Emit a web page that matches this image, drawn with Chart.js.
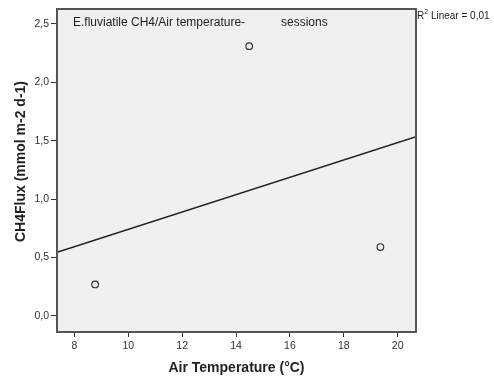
<!DOCTYPE html>
<html>
<head>
<meta charset="utf-8">
<script src="https://cdn.jsdelivr.net/npm/chart.js@4/dist/chart.umd.min.js"></script>
<style>
  html, body { margin: 0; padding: 0; background: #fff; }
  canvas { display: block; }
</style>
</head>
<body>
<canvas id="scatterChart" width="494" height="385"></canvas>
<script>
// datos
const airTemp = [8.77, 14.49, 19.36];
const ch4Flux = [0.27, 2.31, 0.59];
const fitTemp = [7.36, 20.68];
const fitFlux = [0.545, 1.535];
const xTicks = [8, 10, 12, 14, 16, 18, 20];
const yTicks = [0, 0.5, 1, 1.5, 2, 2.5];

const chartTitle = 'E.fluviatile CH4/Air temperature-';
const chartTitle2 = 'sessions';
const fitLabel = ' Linear = 0,01';
const yTitle = 'CH4Flux (mmol m-2 d-1)';
const xTitle = 'Air Temperature (°C)';

const FONT = '"Liberation Sans", Arial, sans-serif';

// fondo gris y marco del area del grafico + textos
const framePlugin = {
    id: 'frame',
    beforeDatasetsDraw(chart) {
        const { ctx, chartArea: a } = chart;
        ctx.save();
        ctx.fillStyle = '#f0f0f0';
        ctx.fillRect(a.left, a.top, a.right - a.left, a.bottom - a.top);
        ctx.restore();
    },
    afterDraw(chart) {
        const { ctx, chartArea: a } = chart;
        ctx.save();
        ctx.strokeStyle = '#555';
        ctx.lineWidth = 2;
        ctx.strokeRect(a.left, a.top, a.right - a.left, a.bottom - a.top);

        ctx.fillStyle = '#222';
        ctx.textBaseline = 'middle';
        ctx.font = '12px ' + FONT;
        ctx.fillText(chartTitle, a.left + 16, 23);
        ctx.fillText(chartTitle2, a.left + 224, 23);

        // R2
        ctx.font = '10px ' + FONT;
        const x0 = a.right + 1;
        ctx.fillText('R', x0, 16);
        const rW = ctx.measureText('R').width;
        ctx.font = '7px ' + FONT;
        ctx.fillText('2', x0 + rW, 12);
        const sW = ctx.measureText('2').width;
        ctx.font = '10px ' + FONT;
        ctx.fillText(fitLabel, x0 + rW + sW, 16);

        // titulo eje y
        ctx.font = 'bold 14px ' + FONT;
        ctx.textAlign = 'center';
        ctx.translate(21, 161.5);
        ctx.rotate(-Math.PI / 2);
        ctx.fillText(yTitle, 0, 0);
        ctx.restore();
    }
};

const comma = v => Number(v).toFixed(1).replace('.', ',');

new Chart(document.getElementById('scatterChart'), {
    type: 'scatter',
    data: {
        datasets: [{
            label: 'CH4Flux',
            data: airTemp.map((t, i) => ({ x: t, y: ch4Flux[i] })),
            pointStyle: 'circle',
            pointRadius: 3.3,
            pointBorderWidth: 1.2,
            pointBorderColor: '#333',
            pointBackgroundColor: 'rgba(0,0,0,0)',
            showLine: false
        }, {
            label: 'Linear',
            type: 'line',
            data: fitTemp.map((t, i) => ({ x: t, y: fitFlux[i] })),
            borderColor: '#222',
            borderWidth: 1.5,
            pointRadius: 0,
            fill: false
        }]
    },
    options: {
        responsive: false,
        animation: false,
        devicePixelRatio: 1,
        layout: { padding: { top: 9, right: 78, left: 0, bottom: 0 } },
        plugins: {
            legend: { display: false },
            tooltip: { enabled: false }
        },
        scales: {
            x: {
                type: 'linear',
                min: 7.356,
                max: 20.68,
                afterFit: s => { s.height = 53; },
                afterBuildTicks: s => { s.ticks = xTicks.map(v => ({ value: v })); },
                grid: { drawOnChartArea: false, drawTicks: true, tickLength: 5, color: '#333', lineWidth: 1 },
                border: { display: false },
                ticks: {
                    color: '#333',
                    font: { family: FONT, size: 10.5 },
                    padding: 3,
                    maxRotation: 0,
                    callback: v => String(v)
                },
                title: {
                    display: true,
                    text: xTitle,
                    color: '#222',
                    font: { family: FONT, size: 14, weight: 'bold' },
                    padding: { top: 0, bottom: 8.6 }
                }
            },
            y: {
                type: 'linear',
                min: -0.137,
                max: 2.628,
                afterFit: s => { s.width = 57; },
                afterBuildTicks: s => { s.ticks = yTicks.map(v => ({ value: v })); },
                grid: { drawOnChartArea: false, drawTicks: true, tickLength: 6, color: '#333', lineWidth: 1 },
                border: { display: false },
                ticks: {
                    color: '#333',
                    font: { family: FONT, size: 10.5 },
                    padding: 2,
                    callback: v => comma(v)
                },
                title: { display: false }
            }
        }
    },
    plugins: [framePlugin]
});
</script>
</body>
</html>
